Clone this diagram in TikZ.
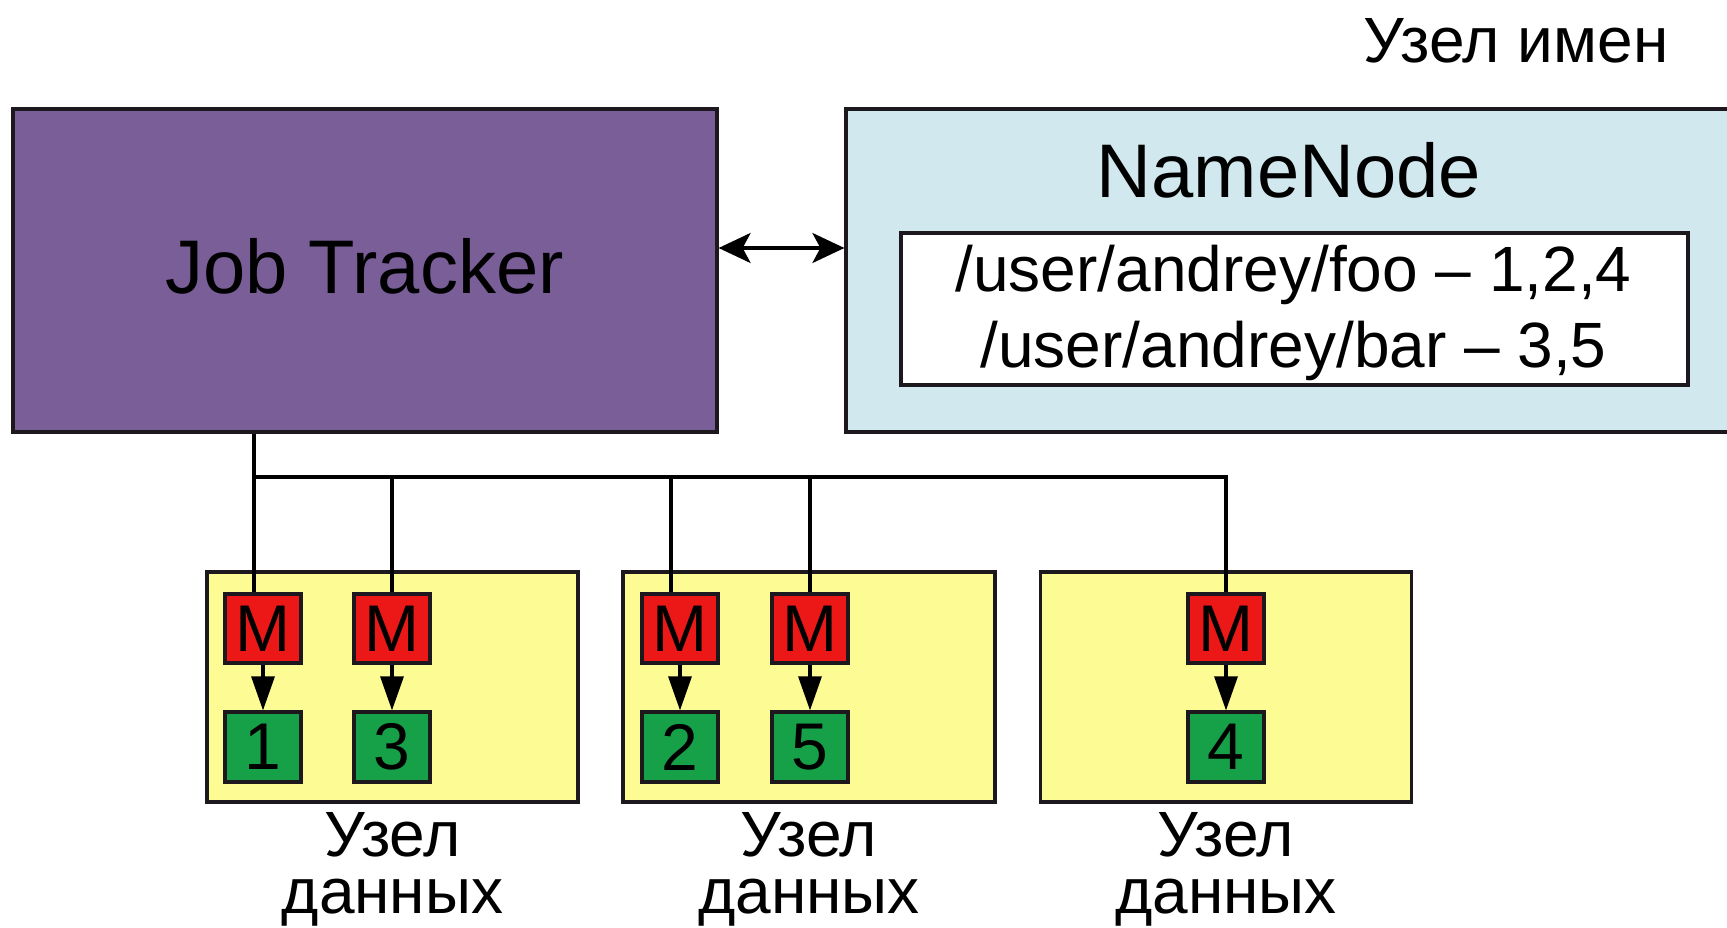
\documentclass[tikz,border=0pt]{standalone}
\usepackage{fontspec}
\setmainfont{Liberation Sans}
\usetikzlibrary{arrows.meta,calc}
\definecolor{jtpurple}{RGB}{121,94,152}
\definecolor{nnblue}{RGB}{209,232,238}
\definecolor{dnyellow}{RGB}{252,251,148}
\definecolor{mred}{RGB}{236,24,24}
\definecolor{bgreen}{RGB}{22,160,72}
\definecolor{edgec}{RGB}{28,24,30}
\begin{document}
\begin{tikzpicture}[x=1pt,y=-1pt,line width=3pt,
  box/.style={draw=edgec,rectangle,inner sep=0pt,line width=3.2pt},
  bigtxt/.style={font=\fontsize{76}{80}\selectfont,inner sep=0pt,anchor=base},
  midtxt/.style={font=\fontsize{64}{64}\selectfont,inner sep=0pt,anchor=base},
  dnlabel/.style={font=\fontsize{64}{57}\selectfont,inner sep=0pt,align=center,anchor=north},
  pathtxt/.style={font=\fontsize{64}{64}\selectfont,inner sep=0pt,anchor=base},
  mbox/.style={box,fill=mred,minimum width=76pt,minimum height=69pt,font=\fontsize{66}{66}\selectfont},
  gbox/.style={box,fill=bgreen,minimum width=76pt,minimum height=70pt,font=\fontsize{66}{66}\selectfont},
  dnode/.style={box,fill=dnyellow,minimum height=230pt},
  link/.style={draw=black,line width=3.2pt},
  tiparrow/.style={link,-{Triangle[length=34pt,width=23pt]}}
]
\useasboundingbox (0,0) rectangle (1727,928);
\clip (0,0) rectangle (1727,928);

% Job Tracker
\node[box,fill=jtpurple,minimum width=704pt,minimum height=323pt] (jt) at (365,270.5) {};
\node[bigtxt] (jtl) at (364.5,293) {Job Tracker};

% NameNode
\node[box,fill=nnblue,minimum width=896pt,minimum height=323pt] (nn) at (1294,270.5) {};
\node[bigtxt] (nnt) at (1289,198) {NameNode};
\node[box,fill=white,minimum width=787pt,minimum height=152pt] (files) at (1294.5,309) {};
\node[pathtxt] (f1) at (1293.6,291) {/user/andrey/foo – 1,2,4};
\node[pathtxt] (f2) at (1293.6,367) {/user/andrey/bar – 3,5};
\node[midtxt] (nnlabel) at (1516,63) {Узел имен};

% double arrow
\coordinate (ay) at (0,248);
\draw[link,{Stealth[length=32pt,width=30pt,inset=8pt]}-{Stealth[length=32pt,width=30pt,inset=8pt]}]
  (jt.east |- ay) -- (nn.west |- ay);

% data nodes
\node[dnode,minimum width=371pt] (dn1) at (392.5,687) {};
\node[dnode,minimum width=372pt] (dn2) at (809,687) {};
\node[dnode,minimum width=371pt] (dn3) at (1226,687) {};

\node[mbox] (m1) at (263,628.5) {M};
\node[mbox] (m3) at (392,628.5) {M};
\node[mbox] (m2) at (680,628.5) {M};
\node[mbox] (m5) at (810,628.5) {M};
\node[mbox] (m4) at (1226,628.5) {M};

\node[gbox] (b1) at (263,747) {1};
\node[gbox] (b3) at (392,747) {3};
\node[gbox] (b2) at (680,747) {2};
\node[gbox] (b5) at (810,747) {5};
\node[gbox] (b4) at (1226,747) {4};

\foreach \a/\b in {m1/b1,m3/b3,m2/b2,m5/b5,m4/b4}
  \draw[tiparrow] (\a.south) -- (\b.north);

% bus
\coordinate (bus) at (0,477);
\coordinate (d1) at ($(m1.north)+(-9,0)$);
\coordinate (d2) at ($(m2.north)+(-9,0)$);
\draw[link] (d1 |- jt.south) -- (d1);
\draw[link] (d1 |- bus) -- (m4.north |- bus) -- (m4.north);
\draw[link] (m3.north |- bus) -- (m3.north);
\draw[link] (d2 |- bus) -- (d2);
\draw[link] (m5.north |- bus) -- (m5.north);

% labels
\node[dnlabel] (l1) at (392.5,811) {Узел\\данных};
\node[dnlabel] (l2) at (809,811) {Узел\\данных};
\node[dnlabel] (l3) at (1226,811) {Узел\\данных};
\end{tikzpicture}
\end{document}
